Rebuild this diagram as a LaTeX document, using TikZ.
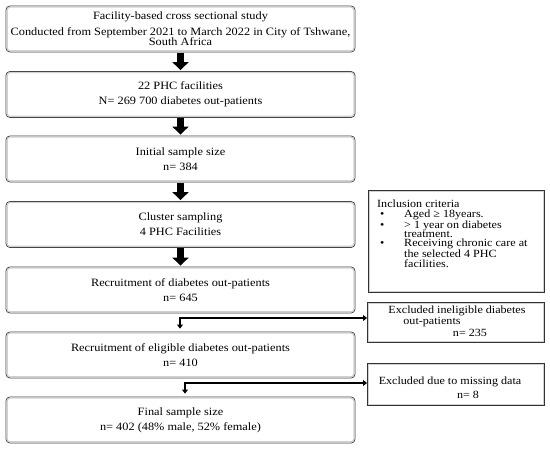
\documentclass[tikz,border=0pt]{standalone}
\usepackage{fontspec}
\setmainfont[FakeStretch=1.1]{Liberation Serif}
\usetikzlibrary{arrows.meta,calc}
\tikzset{
  mainbox/.style={draw=black!80, line width=0.8pt, rounded corners=4pt, fill=white,
    minimum width=349pt, minimum height=46pt, align=center, inner sep=2pt,
    font=\fontsize{11.2}{11}\selectfont},
  sidebox/.style={draw=black!80, line width=0.8pt, fill=white, anchor=north west,
    inner sep=0pt},
  innerline/.style={draw=black!18, line width=1.3pt},
  blockarrow/.style={line width=6.5pt, -{Triangle[width=16pt,length=8pt]}, shorten >=1pt, shorten <=0.5pt},
  elbow/.style={line width=2.2pt, line cap=butt},
  elbowtip/.style={line width=2.2pt, -{Triangle[width=6pt,length=4pt]}},
  sidetext/.style={font=\fontsize{11}{9.3}\selectfont, inner sep=0pt}
}
\begin{document}
\begin{tikzpicture}[x=1pt,y=-1pt]
\useasboundingbox (0,0) rectangle (550,449);
% main boxes
\node[mainbox] (b1) at (180.5,29) {Facility-based cross sectional study\\[5pt]Conducted from September 2021 to March 2022 in City of Tshwane,\\[-1pt]South Africa};
\node[mainbox] (b2) at (180.5,94.5) {22 PHC facilities\\[4pt]N= 269 700 diabetes out-patients};
\node[mainbox] (b3) at (180.5,159) {Initial sample size\\[4pt]n= 384};
\node[mainbox] (b4) at (180.5,224.5) {Cluster sampling\\[4pt]4 PHC Facilities};
\node[mainbox] (b5) at (180.5,290) {Recruitment of diabetes out-patients\\[4pt]n= 645};
\node[mainbox] (b6) at (180.5,355) {Recruitment of eligible diabetes out-patients\\[4pt]n= 410};
\node[mainbox] (b7) at (180.5,420) {Final sample size\\[4pt]n= 402 (48\% male, 52\% female)};
\foreach \n in {b1,b2,b3,b4,b5,b6,b7}
  \draw[innerline, rounded corners=3pt] ([shift={(1.5pt,1.5pt)}]\n.south west) rectangle ([shift={(-1.5pt,-1.5pt)}]\n.north east);
% block arrows
\draw[blockarrow] (b1.south) -- (b2.north);
\draw[blockarrow] (b2.south) -- (b3.north);
\draw[blockarrow] (b3.south) -- (b4.north);
\draw[blockarrow] (b4.south) -- (b5.north);
% side boxes
\node[sidebox, minimum width=176pt, minimum height=102pt] (inc) at (368,190) {};
\node[sidebox, minimum width=177pt, minimum height=40pt] (ex1) at (367,302) {};
\node[sidebox, minimum width=177pt, minimum height=42pt] (ex2) at (367,363) {};
\foreach \n in {inc,ex1,ex2}
  \draw[innerline] ([shift={(1.5pt,1.5pt)}]\n.south west) rectangle ([shift={(-1.5pt,-1.5pt)}]\n.north east);
\node[sidetext, anchor=north west, align=left] (inct) at (377,200)
  {Inclusion criteria\\
   \makebox[27pt][l]{\ •}Aged ≥ 18years.\\
   \makebox[27pt][l]{\ •}> 1 year on diabetes\\
   \makebox[27pt][l]{}treatment.\\
   \makebox[27pt][l]{\ •}Receiving chronic care at\\
   \makebox[27pt][l]{}the selected 4 PHC\\
   \makebox[27pt][l]{}facilities.};
\node[sidetext] (ex1a) at (457,311) {Excluded ineligible diabetes};
\node[sidetext] (ex1b) at (432,322) {out-patients};
\node[sidetext] (ex1c) at (470,333) {n= 235};
\node[sidetext] (ex2a) at (450,382) {Excluded due to missing data};
\node[sidetext] (ex2b) at (468,395) {n= 8};
% elbow connectors
\coordinate (j1) at (180,318);
\coordinate (j2) at (185,383);
\draw[elbowtip] (j1) -- (j1 -| ex1.west);
\draw[elbowtip, shorten >=3pt] ([yshift=-1.1pt]j1) -- (j1 |- b6.north);
\draw[elbow] ([xshift=-1.1pt]j1) -- (j1);
\draw[elbowtip] (j2) -- (j2 -| ex2.west);
\draw[elbowtip, shorten >=3pt] ([yshift=-1.1pt]j2) -- (j2 |- b7.north);
\draw[elbow] ([xshift=-1.1pt]j2) -- (j2);
\end{tikzpicture}
\end{document}
